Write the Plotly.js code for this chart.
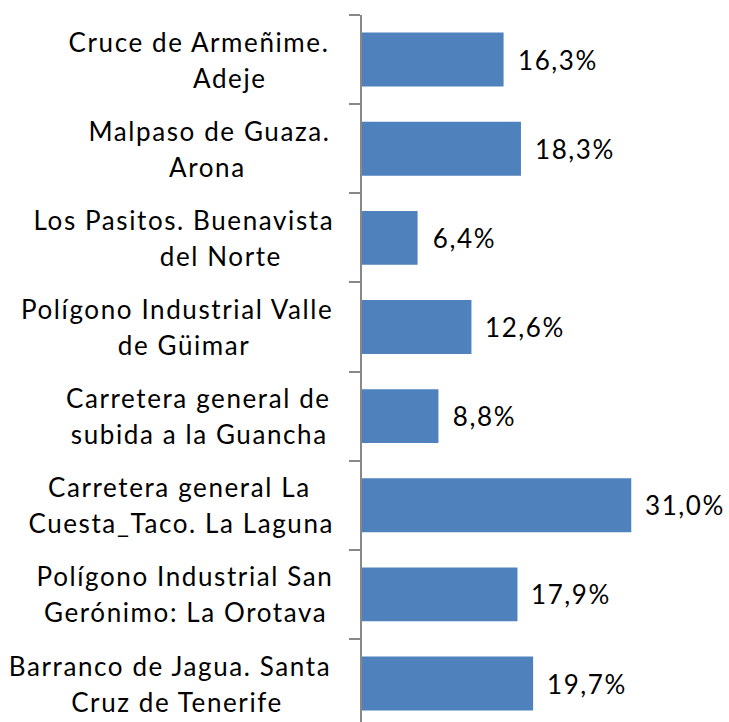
<!DOCTYPE html>
<html>
<head>
<meta charset="utf-8">
<script src="https://cdn.plot.ly/plotly-3.0.1.min.js"></script>
<style>
html,body{margin:0;padding:0;background:#fff;}
#chart{width:729px;height:722px;}
#chart .annotation-text{letter-spacing:1.6px;}
</style>
</head>
<body>
<div id="chart"></div>
<script>
// Data
const categories = [
  "Cruce de Armeñime. Adeje",
  "Malpaso de Guaza. Arona",
  "Los Pasitos. Buenavista del Norte",
  "Polígono Industrial Valle de Güimar",
  "Carretera general de subida a la Guancha",
  "Carretera general La Cuesta_Taco. La Laguna",
  "Polígono Industrial San Gerónimo: La Orotava",
  "Barranco de Jagua. Santa Cruz de Tenerife"
];
const labelLines = [
  ["Cruce de Armeñime.", "Adeje"],
  ["Malpaso de Guaza.", "Arona"],
  ["Los Pasitos. Buenavista", "del Norte"],
  ["Polígono Industrial Valle", "de Güimar"],
  ["Carretera general de", "subida a la Guancha"],
  ["Carretera general La", "Cuesta_Taco. La Laguna"],
  ["Polígono Industrial San", "Gerónimo: La Orotava"],
  ["Barranco de Jagua. Santa", "Cruz de Tenerife"]
];
const values = [16.3, 18.3, 6.4, 12.6, 8.8, 31.0, 17.9, 19.7];

// Style (pixel centers of each wrapped label line, measured from the left edge)
const lineCenters = [
  [199, 230], [209.5, 207.5], [184, 221], [176.5, 184.5],
  [198.5, 199], [179, 181], [185, 185], [169.5, 176.5]
];
const FONT = "Lato, 'Open Sans', sans-serif";
const AXIS_X = 362;

const fmt = v => v.toFixed(1).replace('.', ',') + '%';

const trace = {
  type: 'bar',
  orientation: 'h',
  y: categories,
  x: values,
  marker: {color: '#4F81BD'},
  hoverinfo: 'none'
};

const annotations = [];
categories.forEach((c, i) => {
  labelLines[i].forEach((ln, j) => {
    annotations.push({
      xref: 'paper', yref: 'y', x: 0, y: c,
      xanchor: 'center', yanchor: 'middle',
      xshift: lineCenters[i][j] - AXIS_X,
      yshift: j === 0 ? 18 : -18,
      text: ln, showarrow: false,
      font: {family: FONT, size: 26, color: '#000'}
    });
  });
  annotations.push({
    xref: 'x', yref: 'y', x: values[i], y: c,
    xanchor: 'left', yanchor: 'middle', xshift: 16,
    text: fmt(values[i]), showarrow: false,
    font: {family: FONT, size: 26, color: '#000'}
  });
});

const span = 707 / 89.14;
const layout = {
  width: 729, height: 722,
  margin: {l: AXIS_X, r: 62.5, t: 15, b: 0, pad: 0},
  paper_bgcolor: '#fff', plot_bgcolor: '#fff',
  showlegend: false,
  bargap: 0.395,
  xaxis: {range: [0, 35], visible: false, fixedrange: true},
  yaxis: {
    type: 'category',
    categoryorder: 'array', categoryarray: categories,
    range: [-0.5 + span, -0.5],
    showline: true, linecolor: '#888', linewidth: 2,
    ticks: 'outside', ticklen: 11, tickwidth: 2, tickcolor: '#888',
    tickson: 'boundaries',
    showticklabels: false, showgrid: false, zeroline: false
  },
  annotations: annotations
};

Plotly.newPlot('chart', [trace], layout, {staticPlot: true, displayModeBar: false});
</script>
</body>
</html>
